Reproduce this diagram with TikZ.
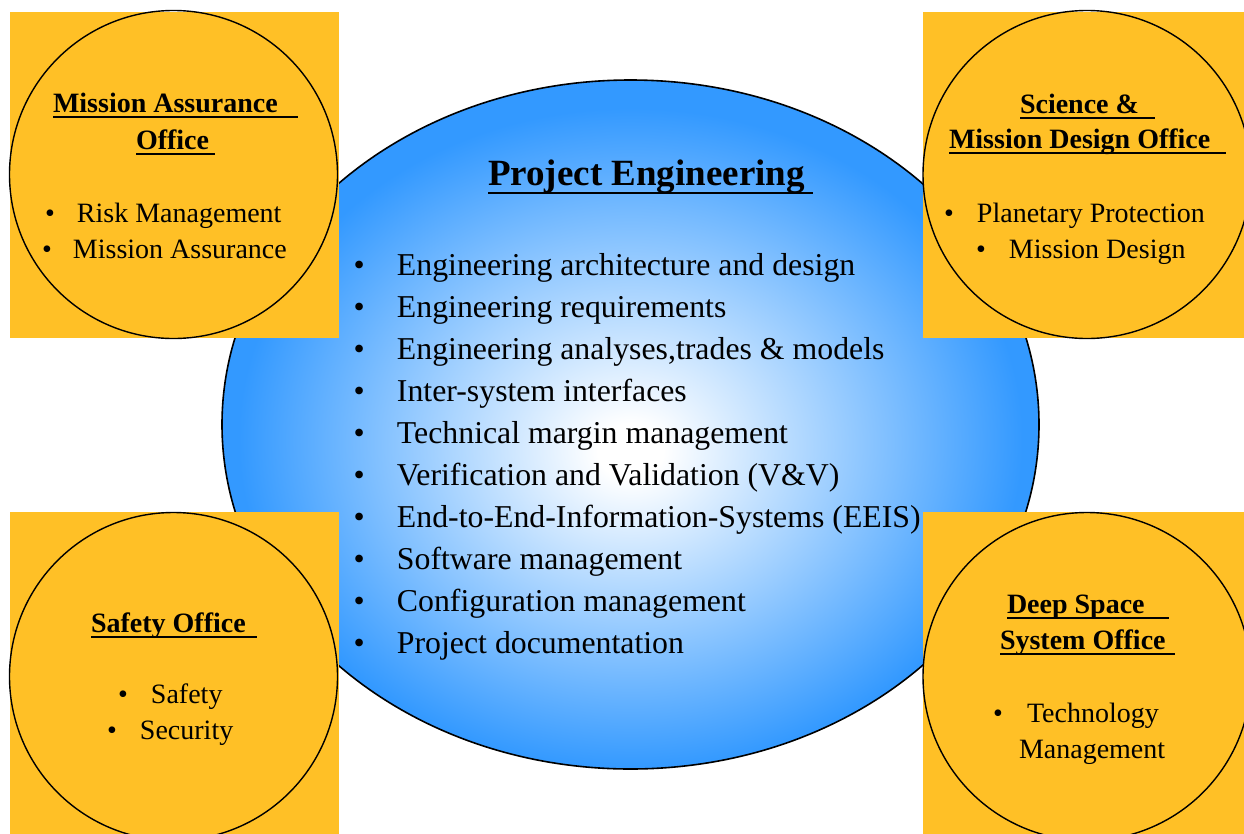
\documentclass[tikz,border=0pt]{standalone}
\usepackage{fontspec}
\setmainfont{Liberation Serif}
\usetikzlibrary{shapes.geometric}
\definecolor{pegold}{RGB}{255,192,38}
\definecolor{peblue}{RGB}{51,153,255}
\pgfdeclareradialshading{peshade}{\pgfpoint{0bp}{-2bp}}{color(0bp)=(white); color(2bp)=(white); color(24bp)=(peblue); color(25bp)=(peblue); color(50bp)=(peblue)}
\newcommand\ulin[3]{\setbox0=\hbox{#1}\rlap{\rule[-#3]{\dimexpr\wd0+#2\relax}{2pt}}\box0}
\newcommand\bitem[2]{\makebox[#1][l]{\textbullet}#2}
\tikzset{
  txt/.style={anchor=base west, inner sep=0pt, outer sep=0pt},
  body/.style={txt, font=\fontsize{31.8}{38}\selectfont},
  title/.style={txt, font=\bfseries\fontsize{37}{42}\selectfont},
  ctext/.style={txt, font=\fontsize{28}{34}\selectfont},
  chead/.style={txt, font=\bfseries\fontsize{28}{34}\selectfont},
  officesq/.style={rectangle, fill=pegold, anchor=north west, minimum width=329pt, minimum height=326pt, inner sep=0pt},
  officecirc/.style={circle, draw=black, line width=1.4pt, minimum size=328pt, inner sep=0pt},
}
\begin{document}
\begin{tikzpicture}[x=1pt,y=-1pt]
\useasboundingbox (0,0) rectangle (1244,833);
\clip (0,0) rectangle (1244,833);
\fill[white] (0,0) rectangle (1244,833);
% central ellipse
\node[ellipse, draw=black, line width=1.6pt, shading=peshade, minimum width=817pt, minimum height=689pt, inner sep=0pt] (pe) at (630.5,424.5) {};
% office squares and circles
\node[officesq] (tlsq) at (10,12) {};
\node[officecirc] (tlc) at (173.5,174.5) {};
\node[officesq] (trsq) at (923,12) {};
\node[officecirc] (trc) at (1087,174.5) {};
\node[officesq] (blsq) at (10,512) {};
\node[officecirc] (blc) at (173.5,676.5) {};
\node[officesq] (brsq) at (923,512) {};
\node[officecirc] (brc) at (1087,676.5) {};
% project engineering text
\node[title] (pet) at (488,185) {\ulin{Project Engineering}{8pt}{8.5pt}};
\node[body] (pe1) at (353.5,275) {\bitem{43.5pt}{Engineering architecture and design}};
\node[body] (pe2) at (353.5,317) {\bitem{43.5pt}{Engineering requirements}};
\node[body] (pe3) at (353.5,359) {\bitem{43.5pt}{Engineering analyses,trades \& models}};
\node[body] (pe4) at (353.5,401) {\bitem{43.5pt}{Inter-system interfaces}};
\node[body] (pe5) at (353.5,443) {\bitem{43.5pt}{Technical margin management}};
\node[body] (pe6) at (353.5,485) {\bitem{43.5pt}{Verification and Validation (V\&V)}};
\node[body] (pe7) at (353.5,527) {\bitem{43.5pt}{End-to-End-Information-Systems (EEIS)}};
\node[body] (pe8) at (353.5,569) {\bitem{43.5pt}{Software management}};
\node[body] (pe9) at (353.5,611) {\bitem{43.5pt}{Configuration management}};
\node[body] (pe10) at (353.5,653) {\bitem{43.5pt}{Project documentation}};
% mission assurance office
\node[chead] (tlh1) at (53,112) {\ulin{Mission Assurance}{20pt}{6.3pt}};
\node[chead] (tlh2) at (136,149) {\ulin{Office}{6pt}{6.3pt}};
\node[ctext] (tli1) at (45,222) {\bitem{32pt}{Risk Management}};
\node[ctext] (tli2) at (42,258) {\bitem{31pt}{Mission Assurance}};
% science & mission design office
\node[chead] (trh1) at (1020,113) {\ulin{Science \&}{16pt}{6.3pt}};
\node[chead] (trh2) at (949,148) {\ulin{Mission Design Office}{16pt}{6.3pt}};
\node[ctext] (tri1) at (944,222) {\bitem{33pt}{Planetary Protection}};
\node[ctext] (tri2) at (976,258) {\bitem{33pt}{Mission Design}};
% safety office
\node[chead] (blh1) at (91,632) {\ulin{Safety Office}{11pt}{6.3pt}};
\node[ctext] (bli1) at (118,703) {\bitem{33pt}{Safety}};
\node[ctext] (bli2) at (107,739) {\bitem{33pt}{Security}};
% deep space system office
\node[chead] (brh1) at (1007,613) {\ulin{Deep Space}{24pt}{6.3pt}};
\node[chead] (brh2) at (1000,649) {\ulin{System Office}{9pt}{6.3pt}};
\node[ctext] (bri1) at (993,722) {\bitem{34pt}{Technology}};
\node[ctext] (bri2) at (1019,758) {Management};
\end{tikzpicture}
\end{document}
